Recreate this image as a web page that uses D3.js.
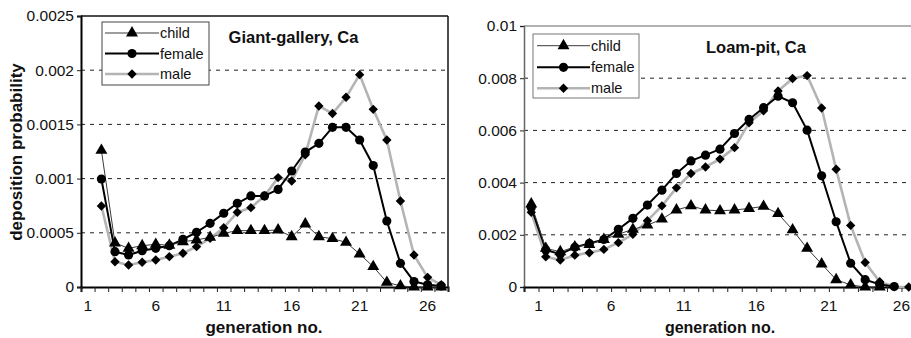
<!DOCTYPE html>
<html>
<head>
<meta charset="utf-8">
<script src="https://cdn.jsdelivr.net/npm/d3@7"></script>
<style>
  html, body { margin: 0; padding: 0; background: #fff; }
  svg { display: block; font-family: "Liberation Sans", Arial, sans-serif; }
</style>
</head>
<body>
<div id="chart"></div>
<script>
// Giant-gallery panel: categories 1..27, first category has no value
const ggCats = [1, 2, 3, 4, 5, 6, 7, 8, 9, 10, 11, 12, 13, 14, 15, 16, 17, 18, 19, 20, 21, 22, 23, 24, 25, 26, 27];
const ggChild = [null, 0.00126, 0.000406, 0.000357, 0.000381, 0.000394, 0.000385, 0.000418, 0.000434, 0.000458, 0.000495, 0.00052, 0.00052, 0.00052, 0.000526, 0.000464, 0.000581, 0.000464, 0.000446, 0.000412, 0.000304, 0.000188, 0.000043, 0.00001, 0, 0, 0];
const ggFemale = [null, 0.000996, 0.000326, 0.000295, 0.000335, 0.000357, 0.000381, 0.00044, 0.000505, 0.000587, 0.00068, 0.000772, 0.00084, 0.00084, 0.0009, 0.00107, 0.001245, 0.001325, 0.001473, 0.001473, 0.001356, 0.00112, 0.000609, 0.000218, 0.00005, 0.00002, 0.00001];
const ggMale = [null, 0.000747, 0.000233, 0.000203, 0.000228, 0.000249, 0.00028, 0.000311, 0.000372, 0.000449, 0.000547, 0.000689, 0.000732, 0.00084, 0.001009, 0.000978, 0.00122, 0.00167, 0.0016, 0.00175, 0.001959, 0.001639, 0.001356, 0.000793, 0.000295, 0.000089, 0.00002];
const ggYTicks = [0, 0.0005, 0.001, 0.0015, 0.002, 0.0025];

// Loam-pit panel: categories 0..26
const lpCats = [0, 1, 2, 3, 4, 5, 6, 7, 8, 9, 10, 11, 12, 13, 14, 15, 16, 17, 18, 19, 20, 21, 22, 23, 24, 25, 26];
const lpChild = [0.00318, 0.00148, 0.00135, 0.00154, 0.00163, 0.00182, 0.00202, 0.00221, 0.00237, 0.0026, 0.00295, 0.00311, 0.00295, 0.00292, 0.00295, 0.00301, 0.00309, 0.00281, 0.00219, 0.00148, 0.00088, 0.00028, 0.00008, 0, 0, null, null];
const lpFemale = [0.00305, 0.00142, 0.00126, 0.00152, 0.00167, 0.00182, 0.00221, 0.00263, 0.00314, 0.00371, 0.00435, 0.00483, 0.00505, 0.00528, 0.00588, 0.00642, 0.00687, 0.00731, 0.00706, 0.00601, 0.00426, 0.0025, 0.00091, 0.00028, 0.0001, 0.00002, null];
const lpMale = [0.00286, 0.00116, 0.00103, 0.00122, 0.00131, 0.00144, 0.0017, 0.00202, 0.00254, 0.00311, 0.0038, 0.00435, 0.0046, 0.0049, 0.00534, 0.00629, 0.00675, 0.00751, 0.00799, 0.0081, 0.00686, 0.00451, 0.00236, 0.00094, 0.0002, 0.00001, 0];
const lpYTicks = [0, 0.002, 0.004, 0.006, 0.008, 0.01];

const xTickLabels = [1, 6, 11, 16, 21, 26];
const seriesNames = ['child', 'female', 'male'];

const W = 911, H = 338;

const svg = d3.select('#chart').append('svg')
  .attr('width', W)
  .attr('height', H)
  .attr('viewBox', [0, 0, W, H]);

svg.append('rect').attr('width', W).attr('height', H).attr('fill', '#fff');

// line + marker look for each series (male diamond = square turned 45deg)
const styles = {
  child: { stroke: '#3a3a3a', width: 1, symbol: d3.symbolTriangle, size: 62, rot: 0 },
  female: { stroke: '#000', width: 2, symbol: d3.symbolCircle, size: 66, rot: 0 },
  male: { stroke: '#b4b4b4', width: 2.6, symbol: d3.symbolSquare, size: 44, rot: 45 }
};

function drawPanel(cfg) {
  const g = svg.append('g');

  const x = d3.scaleBand().domain(cfg.cats).range([cfg.left, cfg.right]).padding(0);
  const y = d3.scaleLinear().domain([0, cfg.yMax]).range([cfg.bottom, cfg.top]);
  const cx = d => x(d) + x.bandwidth() / 2;

  // dashed gridlines
  g.append('g')
    .selectAll('line')
    .data(cfg.yTicks.filter(v => v > 0 && v < cfg.yMax))
    .enter()
    .append('line')
    .attr('x1', cfg.left)
    .attr('x2', cfg.right)
    .attr('y1', d => y(d))
    .attr('y2', d => y(d))
    .attr('stroke', '#222')
    .attr('stroke-width', 1)
    .attr('stroke-dasharray', '4,5');

  // plot frame (top / right)
  g.append('line')
    .attr('x1', cfg.left).attr('x2', cfg.right)
    .attr('y1', cfg.top).attr('y2', cfg.top)
    .attr('stroke', cfg.frameColor).attr('stroke-width', cfg.frameWidth);
  if (cfg.rightFrame) {
    g.append('line')
      .attr('x1', cfg.right).attr('x2', cfg.right)
      .attr('y1', cfg.top).attr('y2', cfg.bottom)
      .attr('stroke', cfg.frameColor).attr('stroke-width', cfg.frameWidth);
  }

  // y axis
  const yAxis = g.append('g')
    .attr('transform', `translate(${cfg.left},0)`)
    .call(d3.axisLeft(y).tickValues(cfg.yTicks).tickSize(4).tickPadding(3).tickFormat(d => String(d)));
  yAxis.select('.domain').attr('stroke', cfg.yAxisColor).attr('stroke-width', cfg.yAxisWidth);
  yAxis.selectAll('.tick line').attr('stroke', '#222');
  yAxis.selectAll('.tick text')
    .attr('font-size', '15.5px')
    .attr('fill', '#111')
    .attr('font-family', '"Liberation Sans", Arial, sans-serif');

  // x axis: tick marks on category boundaries
  const xb = d3.scaleLinear().domain([0, cfg.cats.length]).range([cfg.left, cfg.right]);
  const xAxis = g.append('g')
    .attr('transform', `translate(0,${cfg.bottom})`)
    .call(d3.axisBottom(xb).tickValues(d3.range(0, cfg.cats.length + 1)).tickSize(5).tickFormat(''));
  xAxis.select('.domain').attr('stroke', '#000').attr('stroke-width', 2);
  xAxis.selectAll('.tick line').attr('stroke', '#222');

  // x labels
  g.append('g')
    .selectAll('text')
    .data(xTickLabels)
    .enter()
    .append('text')
    .attr('x', d => cfg.labelOnBoundary ? x(d) : cx(d))
    .attr('y', cfg.bottom + 24)
    .attr('text-anchor', 'middle')
    .attr('font-size', '15.5px')
    .attr('fill', '#111')
    .text(d => d);

  // series: male drawn first, child on top
  const seriesData = { child: cfg.child, female: cfg.female, male: cfg.male };
  ['male', 'female', 'child'].forEach(name => {
    const st = styles[name];
    const pts = cfg.cats.map((c, i) => ({ c, v: seriesData[name][i] })).filter(p => p.v != null);
    const line = d3.line().x(p => cx(p.c)).y(p => y(p.v));
    g.append('path')
      .datum(pts)
      .attr('d', line)
      .attr('fill', 'none')
      .attr('stroke', st.stroke)
      .attr('stroke-width', st.width)
      .attr('stroke-linejoin', 'round');
  });
  ['male', 'female', 'child'].forEach(name => {
    const st = styles[name];
    const pts = cfg.cats.map((c, i) => ({ c, v: seriesData[name][i] })).filter(p => p.v != null);
    g.append('g')
      .selectAll('path')
      .data(pts)
      .enter()
      .append('path')
      .attr('d', d3.symbol().type(st.symbol).size(st.size))
      .attr('transform', p => `translate(${cx(p.c)},${y(p.v)}) rotate(${st.rot})`)
      .attr('fill', '#000');
  });

  // legend
  const lg = cfg.legend;
  g.append('rect')
    .attr('x', lg.x0).attr('y', lg.y0)
    .attr('width', lg.x1 - lg.x0).attr('height', lg.y1 - lg.y0)
    .attr('fill', '#fff')
    .attr('stroke', lg.stroke)
    .attr('stroke-width', 1);
  seriesNames.forEach((name, i) => {
    const st = styles[name];
    const ry = lg.rows[i];
    g.append('line')
      .attr('x1', lg.lineX0).attr('x2', lg.lineX1)
      .attr('y1', ry).attr('y2', ry)
      .attr('stroke', st.stroke).attr('stroke-width', st.width);
    g.append('path')
      .attr('d', d3.symbol().type(st.symbol).size(st.size)())
      .attr('transform', `translate(${(lg.lineX0 + lg.lineX1) / 2},${ry}) rotate(${st.rot})`)
      .attr('fill', '#000');
    g.append('text')
      .attr('x', lg.lineX1 + 1)
      .attr('y', ry + 5)
      .attr('font-size', '14.5px')
      .attr('fill', '#111')
      .text(name);
  });

  // panel title
  g.append('text')
    .attr('x', cfg.title.x)
    .attr('y', cfg.title.y)
    .attr('text-anchor', 'middle')
    .attr('font-size', cfg.title.size)
    .attr('font-weight', 'bold')
    .attr('fill', '#111')
    .text(cfg.title.text);

  // x axis title
  g.append('text')
    .attr('x', cfg.xTitle.x)
    .attr('y', cfg.xTitle.y)
    .attr('text-anchor', 'middle')
    .attr('font-size', cfg.xTitle.size)
    .attr('font-weight', 'bold')
    .attr('fill', '#111')
    .text('generation no.');
}

drawPanel({
  cats: ggCats, child: ggChild, female: ggFemale, male: ggMale,
  yMax: 0.0025, yTicks: ggYTicks,
  left: 81, right: 448, top: 16, bottom: 287,
  frameColor: '#111', frameWidth: 1.5, rightFrame: true,
  yAxisColor: '#000', yAxisWidth: 2,
  labelOnBoundary: false,
  legend: { x0: 102, x1: 209, y0: 22, y1: 85, rows: [33, 53.5, 74], lineX0: 105, lineX1: 159, stroke: '#444' },
  title: { text: 'Giant-gallery, Ca', x: 293.5, y: 43, size: '16.5px' },
  xTitle: { x: 264, y: 333, size: '17px' }
});

drawPanel({
  cats: lpCats, child: lpChild, female: lpFemale, male: lpMale,
  yMax: 0.01, yTicks: lpYTicks,
  left: 524, right: 916, top: 26, bottom: 287,
  frameColor: '#999', frameWidth: 1.5, rightFrame: false,
  yAxisColor: '#666', yAxisWidth: 1.5,
  labelOnBoundary: true,
  legend: { x0: 533, x1: 639, y0: 34, y1: 98, rows: [45.7, 67.3, 88.3], lineX0: 537, lineX1: 590, stroke: '#777' },
  title: { text: 'Loam-pit, Ca', x: 756, y: 53, size: '16.5px' },
  xTitle: { x: 720, y: 333, size: '16px' }
});

// shared y axis title
svg.append('text')
  .attr('transform', 'translate(22,152) rotate(-90)')
  .attr('text-anchor', 'middle')
  .attr('font-size', '17px')
  .attr('font-weight', 'bold')
  .attr('fill', '#111')
  .text('deposition probability');
</script>
</body>
</html>
